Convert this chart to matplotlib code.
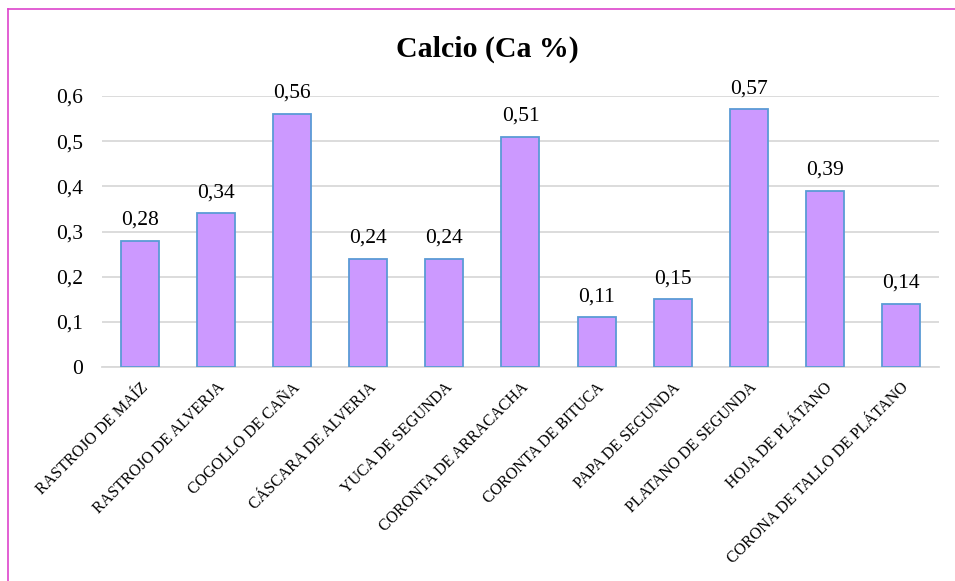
import numpy as np
import matplotlib.pyplot as plt
from matplotlib.lines import Line2D

categorias = ['RASTROJO DE MAÍZ', 'RASTROJO DE ALVERJA', 'COGOLLO DE CAÑA',
              'CÁSCARA DE ALVERJA', 'YUCA DE SEGUNDA', 'CORONTA DE ARRACACHA',
              'CORONTA DE BITUCA', 'PAPA DE SEGUNDA', 'PLATANO DE SEGUNDA',
              'HOJA DE PLÁTANO', 'CORONA DE TALLO DE PLÁTANO']
calcio = [0.28, 0.34, 0.56, 0.24, 0.24, 0.51, 0.11, 0.15, 0.57, 0.39, 0.14]
yticks = [0, 0.1, 0.2, 0.3, 0.4, 0.5, 0.6]

plt.rcParams['font.family'] = ['Liberation Serif', 'DejaVu Serif']

fig = plt.figure(figsize=(9.55, 5.81), dpi=100)
ax = fig.add_axes([0.107, 0.368, 0.876, 0.467])

x = np.arange(len(categorias))
ax.bar(x, calcio, width=0.5, color='#CC99FF', edgecolor='#5B9BD5',
       linewidth=1.3, zorder=3)

for xi, v in zip(x, calcio):
    ax.text(xi, v + 0.025, ('%.2f' % v).replace('.', ','), ha='center',
            va='bottom', fontsize=15.5)

ax.set_xlim(-0.5, len(categorias) - 0.5)
ax.set_ylim(0, 0.6)
ax.set_yticks(yticks)
ax.set_yticklabels([('%g' % t).replace('.', ',') for t in yticks], fontsize=15.5)
ax.yaxis.grid(True, color='#D9D9D9', linewidth=1.3, zorder=0)
ax.set_axisbelow(True)
ax.tick_params(axis='y', length=0, pad=14)
ax.tick_params(axis='x', length=0, pad=9)
ax.set_xticks(x)
ax.set_xticklabels(categorias, rotation=45, ha='right', rotation_mode='anchor',
                   fontsize=11.5)
for s in ['top', 'right', 'left']:
    ax.spines[s].set_visible(False)
ax.spines['bottom'].set_color('#D9D9D9')
ax.spines['bottom'].set_linewidth(1.3)

fig.text(0.51, 0.915, 'Calcio (Ca %)', ha='center', va='center',
         fontsize=21.5, fontweight='bold')

# borde del grafico
fig.add_artist(Line2D([0.0084, 0.0084], [0, 0.9845], color='#DD44CC', lw=1.2))
fig.add_artist(Line2D([0.0084, 1], [0.9845, 0.9845], color='#DD44CC', lw=1.2))

fig.savefig('out.png', dpi=100)
